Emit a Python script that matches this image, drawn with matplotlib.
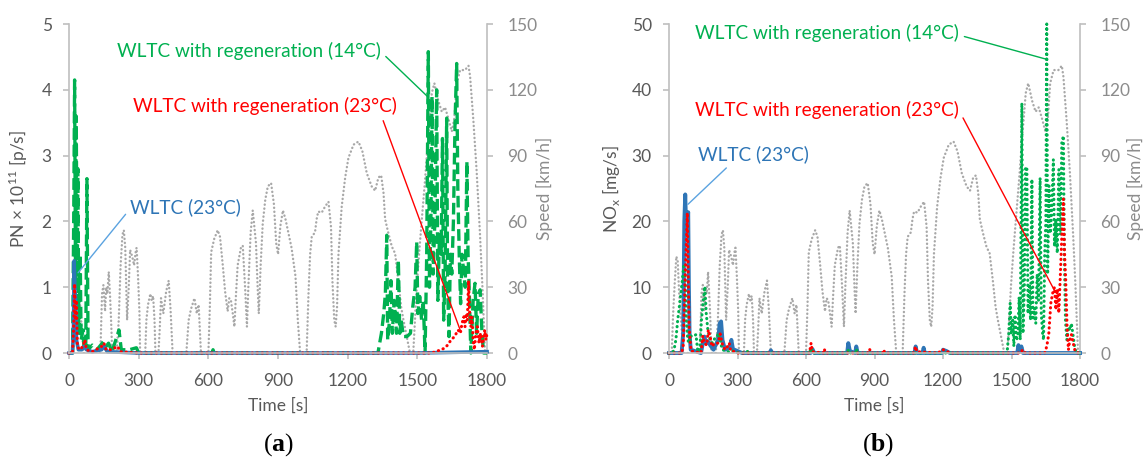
import matplotlib
matplotlib.use("Agg")
import matplotlib.pyplot as plt

plt.rcParams['font.family'] = ['Lato', 'DejaVu Sans']
plt.rcParams['mathtext.fontset'] = 'custom'
plt.rcParams['mathtext.rm'] = 'Lato'
plt.rcParams['mathtext.bf'] = 'Liberation Serif:bold'

# WLTC speed trace [km/h]
speed_t = [0, 12, 18, 25, 32, 38, 44, 50, 56, 62,
           135, 142, 148, 155, 160, 165, 171, 177, 181, 186,
           205, 214, 222, 230, 236, 242, 250, 257, 263, 272, 280, 288, 291, 297, 303, 306,
           328, 333, 340, 350, 356, 362, 368, 372,
           385, 390, 396, 406, 418, 429, 437, 446,
           505, 515, 525, 540, 550, 558, 568,
           600, 606, 612, 625, 640, 650, 662, 672, 683, 690, 697, 705, 712, 718, 726, 740,
           748, 758, 766, 772, 782, 791, 805, 812, 817, 825, 834, 845, 856, 870, 882, 892,
           900, 910, 921, 932, 944, 958, 966, 975, 985, 995,
           1023, 1031, 1038, 1045, 1059, 1066, 1073, 1088, 1102, 1117, 1128, 1134, 1142, 1148,
           1154, 1160, 1174, 1189, 1203, 1225, 1246, 1263, 1282, 1303, 1318, 1332, 1344, 1354,
           1361, 1375, 1390, 1404, 1418, 1430, 1440, 1454, 1468,
           1482, 1497, 1507, 1519, 1533, 1547, 1562, 1573, 1590, 1605, 1619, 1633, 1648, 1659,
           1669, 1684, 1705, 1720, 1727, 1741, 1755, 1770, 1780, 1791, 1800]
speed_v = [0, 0, 18, 32, 44, 42, 28, 18, 10, 0,
           0, 27, 31, 19, 30, 27, 37, 25, 15, 0,
           0, 15, 40, 54, 56, 48, 15, 30, 47, 44, 40, 47, 48, 35, 19, 0,
           0, 15, 22, 27, 24, 26, 15, 0,
           0, 10, 25, 18, 28, 33, 20, 0,
           0, 15, 20, 25, 18, 22, 0,
           0, 20, 46, 52, 56, 53, 40, 28, 19, 25, 24, 18, 12, 25, 40, 48,
           49, 30, 12, 30, 55, 65, 50, 30, 18, 40, 59, 70, 76, 77.5, 68, 50,
           45, 58, 65, 61, 55, 48, 42, 35, 15, 0,
           0, 27, 45, 53, 55, 61, 64.5, 64, 66.7, 69, 57.5, 33, 15, 12,
           21, 45, 66.7, 80, 89, 95, 96.4, 92, 82, 76, 74, 80, 81, 73,
           61, 54.6, 48.5, 45.4, 33, 21, 15, 7.6, 0,
           0, 30, 45, 61, 79, 99, 118.5, 123, 115, 110, 112, 107, 101, 107,
           123, 129, 129, 131, 126, 106, 83, 53, 30, 0, 0]

# particle number, 10^11 p/s
pn_14_t = [0, 15, 20, 24, 28, 31, 35, 38, 42, 48, 52, 60, 65, 72, 77, 82, 100, 120, 150, 160,
           170, 185, 215, 225, 260, 290, 300, 615, 620, 625, 1330,
           1345, 1355, 1362, 1368, 1372, 1380, 1386, 1392, 1400, 1410, 1418, 1424, 1430, 1440,
           1455, 1470, 1480, 1490, 1497, 1502, 1510, 1518, 1525, 1533, 1540, 1547, 1552, 1558,
           1563, 1568, 1575, 1583, 1588, 1595, 1602, 1608, 1613, 1619, 1626, 1630, 1636, 1642,
           1648, 1655, 1662, 1669, 1674, 1680, 1686, 1692, 1700, 1706, 1713, 1718, 1722, 1730,
           1740, 1748, 1755, 1762, 1770, 1778, 1785, 1800]
pn_14 = [0, 0, 2.0, 4.15, 1.0, 3.6, 0.8, 2.8, 0.3, 1.5, 0.2, 0.35, 0.05, 0.1, 2.65, 0.05, 0.12, 0.05, 0.18, 0.1,
         0.15, 0.02, 0.35, 0.05, 0.05, 0.08, 0, 0, 0.05, 0, 0,
         0.3, 0.6, 0.9, 1.79, 0.2, 0.5, 1.1, 0.3, 0.8, 0.3, 1.41, 0.3, 0.5, 0.25,
         0.25, 0.3, 0.7, 1.0, 1.69, 0.6, 0.86, 0.5, 0.8, 0, 1.5, 4.58, 1.0, 2.0,
         3.9, 1.2, 2.0, 4.0, 0.8, 1.8, 1.5, 3.26, 0.5, 1.2, 3.57, 1.0, 0.25, 1.5,
         1.2, 2.0, 3.5, 4.4, 2.5, 1.5, 0.75, 1.5, 1.2, 1.0, 2.91, 1.5, 1.1, 0,
         0.8, 1.06, 0.3, 0.9, 0.96, 0.3, 0, 0]
pn_23r_t = [0, 15, 20, 24, 28, 32, 36, 45, 60, 68, 75, 100, 140, 150, 160, 180, 210, 220, 300,
            1560, 1580, 1600, 1615, 1630, 1645, 1660, 1675, 1685, 1692, 1700, 1705, 1710, 1715,
            1720, 1725, 1730, 1735, 1740, 1745, 1752, 1758, 1765, 1772, 1780, 1790, 1795, 1800]
pn_23r = [0, 0, 0.4, 1.05, 0.5, 0.8, 0.1, 0.05, 0.1, 0.2, 0.05, 0.02, 0.1, 0.15, 0.05, 0.05, 0.1, 0.02, 0,
          0, 0.02, 0.05, 0.07, 0.12, 0.2, 0.25, 0.35, 0.3, 0.45, 0.55, 0.4, 0.6, 0.5,
          1.1, 0.6, 0.4, 0.55, 0.2, 0.05, 0.3, 0.4, 0.15, 0.3, 0.1, 0.35, 0.2, 0.3]
pn_23_t = [0, 15, 19, 22, 25, 28, 32, 40, 55, 65, 75, 100, 140, 150, 165, 300, 1500, 1800]
pn_23 = [0, 0, 0.3, 1.4, 1.0, 0.8, 0.2, 0.05, 0.05, 0.1, 0.05, 0.02, 0.05, 0.1, 0.02, 0, 0, 0.02]

# NOx, mg/s
nox_14_t = [0, 15, 22, 30, 38, 45, 52, 58, 64, 70, 76, 82, 88, 95, 102, 110, 118, 126, 135,
            142, 150, 157, 163, 170, 180, 190, 200, 210, 216, 224, 232, 245, 260, 275, 290, 320,
            350, 360, 615, 622, 630, 780, 786, 792, 815, 820, 826, 1480,
            1488, 1494, 1499, 1505, 1510, 1515, 1522, 1528, 1533, 1538, 1545, 1550, 1556, 1561,
            1567, 1572, 1578, 1583, 1589, 1594, 1600, 1606, 1612, 1618, 1625, 1630, 1636, 1640,
            1645, 1650, 1654, 1658, 1664, 1670, 1676, 1683, 1688, 1694, 1700, 1707, 1714, 1720,
            1727, 1731, 1736, 1742, 1750, 1756, 1762, 1770, 1778, 1790, 1800]
nox_14 = [0, 0, 0.5, 2, 5, 7, 9.1, 11, 13.2, 12.6, 5, 2, 1.5, 2.6, 2.5, 2.6, 2.8, 0.2, 0.5,
          5, 8, 10.1, 6, 3.5, 2.0, 1.5, 2.2, 2.5, 3.0, 2.0, 0.6, 0.3, 0.2, 0.4, 0.1, 0,
          0.3, 0, 0, 0.8, 0, 0, 0.5, 0, 0, 0.6, 0, 0,
          3.0, 7.6, 2.9, 5.0, 1.0, 5.8, 1.9, 3.0, 8.5, 2.0, 38.0, 3.0, 10, 28,
          28.3, 6, 10.5, 5, 26.4, 5, 6.8, 4.5, 12, 8, 26.6, 6, 3, 2.0,
          15, 20, 50, 12, 25.4, 18.2, 22, 29.4, 16.2, 20.3, 15.2, 27.9, 18, 32.0,
          33, 15, 5, 2, 4, 3.5, 4.5, 2.5, 0.5, 0, 0]
nox_23r_t = [0, 55, 62, 68, 74, 80, 84, 88, 92, 97, 140, 148, 155, 165, 172, 180, 188, 200,
             215, 224, 232, 245, 258, 264, 270, 290, 300, 615, 622, 628, 675, 680, 685, 870,
             878, 885, 935, 940, 945, 1070, 1080, 1085, 1180, 1190, 1200, 1215, 1230, 1540,
             1548, 1560, 1645, 1654, 1663, 1672, 1680, 1688, 1694, 1700, 1707, 1714, 1720,
             1727, 1732, 1737, 1743, 1749, 1755, 1762, 1770, 1778, 1790, 1800]
nox_23r = [0, 0, 1, 8, 15, 21.3, 12, 4, 2, 0.3, 0, 2.6, 1.5, 1.2, 3.5, 2.5, 1.0, 1.5,
           1.5, 2.9, 1.5, 0.5, 1.1, 1.5, 0.3, 0.2, 0, 0, 1.5, 0.2, 0, 0.6, 0, 0,
           0.6, 0, 0, 0.5, 0, 0, 1.0, 0.2, 0, 0.4, 0.5, 0.3, 0, 0,
           0.5, 0, 0, 1.0, 2.9, 7.6, 9.1, 10, 6.6, 9.7, 6.1, 12.2, 17.7,
           23.4, 15.2, 11.2, 4, 0.5, 2.0, 2.8, 1.5, 0.3, 0, 0.5]
nox_23_t = [0, 55, 62, 67, 71, 76, 80, 84, 87, 90, 95, 140, 148, 155, 162, 170, 180, 195,
            215, 222, 228, 234, 245, 265, 273, 280, 300, 320, 440, 446, 452, 620, 628, 636,
            780, 785, 792, 815, 820, 826, 1075, 1080, 1086, 1110, 1115, 1120, 1195, 1200,
            1215, 1230, 1525, 1530, 1536, 1543, 1550, 1800]
nox_23 = [0, 0, 3, 20, 24.1, 18, 20, 21.4, 10, 3, 0.5, 0, 1.5, 2.5, 1.5, 1.8, 1.2, 0.5,
          2, 4.5, 4.8, 2, 0.5, 0.8, 2.0, 0.6, 0.3, 0, 0, 0.4, 0, 0, 0.6, 0,
          0, 1.5, 0.3, 0, 1.0, 0, 0, 1.0, 0, 0, 0.8, 0, 0, 0.5,
          0.3, 0, 0, 1.2, 0.2, 1.0, 0, 0]

GREEN = '#00B050'
RED = '#FF0000'
BLUE = '#2E75B6'
SPEED = '#A8A8A8'
AXIS = '#BFBFBF'
DARK = '#595959'
LIGHT = '#8C8C8C'

dotted = (0, (0.1, 1.55))
speed_dots = (0, (0.1, 1.6))

fig = plt.figure(figsize=(11.45, 4.62), dpi=100)


def setup(ax, ymax, ylabel, left_x, right_x):
    ax2 = ax.twinx()
    ax2.plot(speed_t, speed_v, color=SPEED, lw=1.7, linestyle=speed_dots,
             dash_capstyle='round')
    ax2.set_ylim(0, 150)
    ax2.set_yticks(range(0, 151, 30))
    ax.set_zorder(ax2.get_zorder() + 1)
    ax.patch.set_visible(False)

    ax.set_xlim(0, 1800)
    ax.set_ylim(0, ymax)
    ax.set_xticks(range(0, 1801, 300))
    ax.set_yticks(range(0, ymax + 1, ymax // 5))
    for a in (ax, ax2):
        a.spines['top'].set_visible(False)
        for s in ('left', 'right', 'bottom'):
            a.spines[s].set_color(AXIS)
            a.spines[s].set_linewidth(1.2)
    ax.spines['right'].set_visible(False)
    ax2.spines['left'].set_visible(False)
    ax2.spines['bottom'].set_visible(False)
    ax.tick_params(axis='y', length=4.5, width=1.2, color=AXIS, labelcolor=DARK,
                   labelsize=12.5, pad=8)
    ax.tick_params(axis='x', length=4.5, width=1.2, color=AXIS, labelcolor=DARK,
                   labelsize=12.5, pad=10)
    ax2.tick_params(axis='y', length=4.5, width=1.2, color=AXIS, labelcolor=LIGHT,
                    labelsize=12.5, pad=10)
    ax.set_xlabel('Time [s]', fontsize=12.5, color=DARK)
    ax.xaxis.set_label_coords(0.5, -0.134)
    ax.set_ylabel(ylabel, fontsize=12.5, color=DARK)
    ax.yaxis.set_label_coords(left_x, 0.5)
    ax2.set_ylabel('Speed [km/h]', fontsize=12.5, color=LIGHT, rotation=90)
    ax2.yaxis.set_label_coords(right_x, 0.5)
    return ax2


def note(ax, text, color, xy, xytext, relpos, lcolor=None):
    ax.annotate(text, xy=xy, xytext=xytext, color=color, fontsize=13.7,
                ha='left', va='center',
                arrowprops=dict(arrowstyle='-', color=lcolor or color, lw=1,
                                relpos=relpos, shrinkA=2, shrinkB=0))


# (a) particle number
ax_a = fig.add_axes([0.0603, 0.2359, 0.3651, 0.7121])
setup(ax_a, 5, 'PN × 10$^{\\mathregular{11}}$ [p/s]', -0.093, 1.117)
ax_a.set_yticks(range(0, 6))
ax_a.plot(pn_14_t, pn_14, color=GREEN, lw=2.4, linestyle=(0, (3.5, 1.5)), clip_on=False)
ax_a.plot(pn_23_t, pn_23, color=BLUE, lw=2.6, clip_on=False)
ax_a.plot(pn_23r_t, pn_23r, color=RED, lw=2.2, linestyle=dotted,
          dash_capstyle='round', clip_on=False)
note(ax_a, 'WLTC with regeneration (14°C)', GREEN, (1546, 3.89), (207, 4.59), (1.0, 0.45))
note(ax_a, 'WLTC with regeneration (23°C)', RED, (1684, 0.35), (276, 3.75), (0.94, 0.0))
note(ax_a, 'WLTC (23°C)', BLUE, (39, 1.22), (263, 2.22), (0.0, 0.4), '#5BA3E0')

# (b) NOx
ax_b = fig.add_axes([0.5843, 0.2359, 0.3590, 0.7121])
setup(ax_b, 50, 'NO$_{\\mathregular{x}}$ [mg/s]', -0.114, 1.114)
ax_b.plot(nox_23_t, nox_23, color=BLUE, lw=2.8, clip_on=False)
ax_b.plot(nox_14_t, nox_14, color=GREEN, lw=2.2, linestyle=dotted,
          dash_capstyle='round', clip_on=False)
ax_b.plot(nox_23r_t, nox_23r, color=RED, lw=2.2, linestyle=dotted,
          dash_capstyle='round', clip_on=False)
note(ax_b, 'WLTC with regeneration (14°C)', GREEN, (1647, 44.7), (114, 48.6), (1.0, 0.4))
note(ax_b, 'WLTC with regeneration (23°C)', RED, (1691, 9.3), (114, 36.9), (1.0, 0.5))
note(ax_b, 'WLTC (23°C)', BLUE, (83, 22.6), (127, 30.2), (0.3, 0.0), '#5BA3E0')

fig.text(278 / 1145, 1 - 445 / 462, '($\\mathbf{a}$)', family='Liberation Serif',
         fontsize=18.5, ha='center', va='center')
fig.text(878 / 1145, 1 - 445 / 462, '($\\mathbf{b}$)', family='Liberation Serif',
         fontsize=18.5, ha='center', va='center')

fig.savefig('out.png', dpi=100)
